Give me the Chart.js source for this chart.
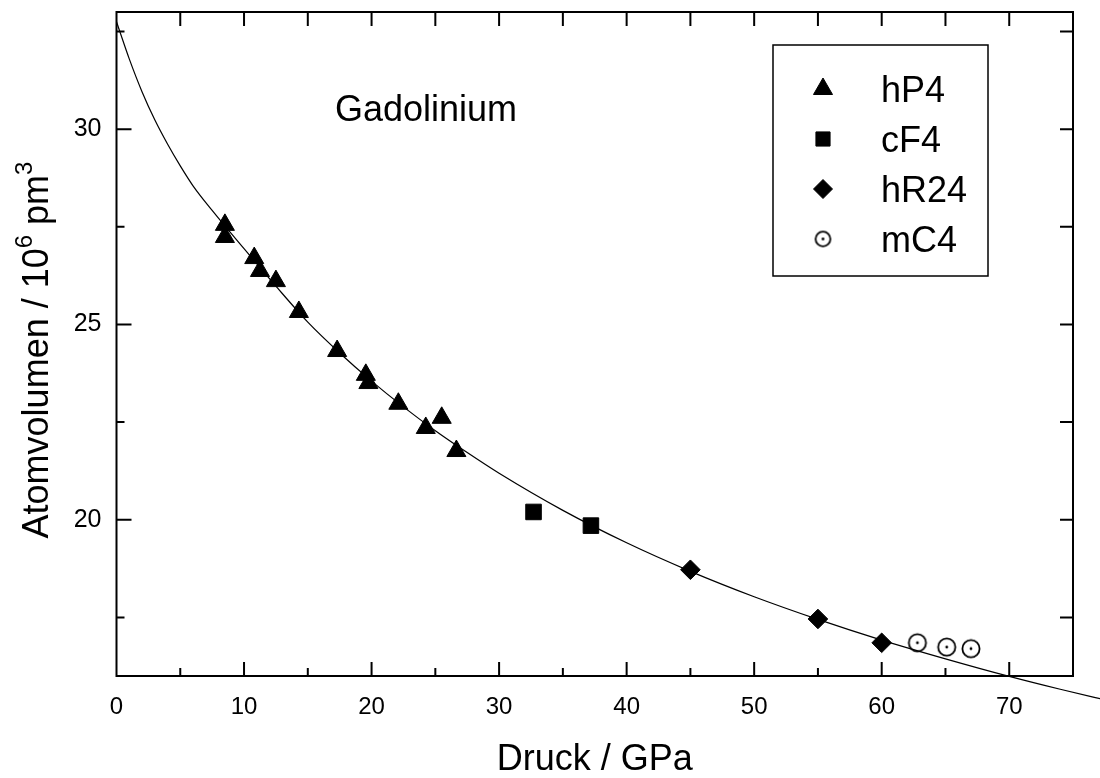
<!DOCTYPE html>
<html>
<head>
<meta charset="utf-8">
<title>Gadolinium – Atomvolumen gegen Druck</title>
<script src="https://cdn.jsdelivr.net/npm/chart.js@4.4.1/dist/chart.umd.min.js"></script>
<style>
  html, body { margin: 0; padding: 0; background: #fff; }
  #wrap { width: 1100px; height: 778px; }
</style>
</head>
<body>
<div id="wrap"><canvas id="gd-chart" width="1100" height="778"></canvas></div>
<script>
// measured points: pressure in GPa, atomic volume in 10^6 pm^3
const hP4P = [8.5, 8.5, 10.8, 11.25, 12.5, 14.3, 17.3, 19.55, 19.75, 22.1, 24.25, 25.5, 26.65];
const hP4V = [27.55, 27.24, 26.70, 26.37, 26.11, 25.32, 24.32, 23.71, 23.50, 22.97, 22.35, 22.61, 21.76];
const cF4P = [32.7, 37.2];
const cF4V = [20.20, 19.85];
const hR24P = [45.0, 55.0, 60.0];
const hR24V = [18.72, 17.46, 16.85];
const mC4P = [62.8, 65.1, 67.0];
const mC4V = [16.85, 16.74, 16.70];

// fitted curve (it runs on past the right frame)
const fitP = [0, 1, 2, 3, 4, 5, 6, 7.5, 10, 12.5, 15, 17.5, 20, 22.5, 25, 27.5, 30, 35, 40, 45, 50, 55, 60, 65, 70, 74, 78];
const fitV = [32.75, 31.8, 30.96, 30.24, 29.62, 29.06, 28.55, 27.92, 26.94, 25.98, 25.06, 24.27, 23.55, 22.89, 22.28, 21.72, 21.19, 20.24, 19.41, 18.68, 18.03, 17.45, 16.92, 16.44, 15.99, 15.66, 15.35];

const xTicks = [0, 10, 20, 30, 40, 50, 60, 70];
const xMinor = [5, 15, 25, 35, 45, 55, 65];
const yTicks = [20, 25, 30];
const yMinor = [17.5, 22.5, 27.5, 32.5];

const ink = '#000';
const family = '"Liberation Sans", Arial, Helvetica, sans-serif';

const toPoints = (xs, ys) => xs.map((x, i) => ({ x: x, y: ys[i] }));

function dotCircle(r) {
    const size = Math.ceil(2 * r + 4);
    const c = document.createElement('canvas');
    c.width = size; c.height = size;
    const g = c.getContext('2d');
    g.strokeStyle = ink; g.fillStyle = ink; g.lineWidth = 1.8;
    g.beginPath(); g.arc(size / 2, size / 2, r, 0, Math.PI * 2); g.stroke();
    g.beginPath(); g.arc(size / 2, size / 2, 1.4, 0, Math.PI * 2); g.fill();
    return c;
}

const markers = [
    { label: 'hP4', style: 'triangle', r: 11, lr: 11 },
    { label: 'cF4', style: 'rect', r: 11, lr: 10 },
    { label: 'hR24', style: 'rectRot', r: 9.8, lr: 9.5 },
    { label: 'mC4', style: dotCircle(8.6), r: 9, lr: 8, legendStyle: dotCircle(7.4) }
];

function sideTicks(ctx, a, x, y) {
    ctx.beginPath();
    xTicks.concat(xMinor).forEach(v => {
        if (v <= 0) return;
        const px = x.getPixelForValue(v);
        const len = xTicks.includes(v) ? 14 : 8;
        ctx.moveTo(px, a.bottom); ctx.lineTo(px, a.bottom - len);
        ctx.moveTo(px, a.top); ctx.lineTo(px, a.top + 14);
    });
    yTicks.concat(yMinor).forEach(v => {
        const py = y.getPixelForValue(v);
        const len = yTicks.includes(v) ? 15 : 8;
        ctx.moveTo(a.left, py); ctx.lineTo(a.left + len, py);
        ctx.moveTo(a.right, py); ctx.lineTo(a.right - 13, py);
    });
    ctx.stroke();
}

const framePlugin = {
    id: 'frame',
    afterDatasetsDraw(chart) {
        const { ctx, chartArea: a, scales: { x, y } } = chart;
        ctx.save();
        ctx.strokeStyle = ink;
        ctx.fillStyle = ink;
        ctx.lineWidth = 2;
        ctx.strokeRect(a.left, a.top, a.right - a.left, a.bottom - a.top);
        sideTicks(ctx, a, x, y);

        // axis titles
        ctx.textBaseline = 'alphabetic';
        ctx.font = '36px ' + family;
        ctx.textAlign = 'center';
        ctx.fillText('Druck / GPa', (a.left + a.right) / 2, 770);

        const parts = [['Atomvolumen / 10', 36, 0], ['6', 24, -16], [' pm', 36, 0], ['3', 24, -16]];
        let total = 0;
        parts.forEach(p => { ctx.font = p[1] + 'px ' + family; total += ctx.measureText(p[0]).width; });
        ctx.save();
        ctx.translate(48, 350);
        ctx.rotate(-Math.PI / 2);
        ctx.textAlign = 'left';
        let cx = -total / 2;
        parts.forEach(p => {
            ctx.font = p[1] + 'px ' + family;
            ctx.fillText(p[0], cx, p[2]);
            cx += ctx.measureText(p[0]).width;
        });
        ctx.restore();

        // annotation
        ctx.font = '36px ' + family;
        ctx.textAlign = 'left';
        ctx.fillText('Gadolinium', 335, 121);

        // legend box
        ctx.lineWidth = 1.5;
        ctx.strokeRect(773, 45, 215, 231);
        ctx.font = '36px ' + family;
        const rowY = [89, 139, 189, 239];
        chart.data.datasets.forEach((ds, i) => {
            if (!ds.legendMarker) return;
            const m = ds.legendMarker;
            ctx.fillStyle = ink; ctx.strokeStyle = ink; ctx.lineWidth = 1;
            Chart.helpers.drawPoint(ctx, { pointStyle: m.legendStyle || m.style, radius: m.lr, rotation: 0, borderWidth: 1 }, 823, rowY[i]);
            ctx.fillText(ds.label, 881, rowY[i] + 13);
        });
        ctx.restore();
    }
};

const datasets = [
    [hP4P, hP4V], [cF4P, cF4V], [hR24P, hR24V], [mC4P, mC4V]
].map((d, i) => ({
    label: markers[i].label,
    data: toPoints(d[0], d[1]),
    pointStyle: markers[i].style,
    pointRadius: markers[i].r,
    pointHoverRadius: markers[i].r,
    backgroundColor: ink,
    borderColor: ink,
    pointBorderWidth: 1,
    legendMarker: markers[i]
}));

datasets.push({
    label: 'fit',
    type: 'line',
    data: toPoints(fitP, fitV),
    showLine: true,
    borderColor: ink,
    borderWidth: 1.2,
    pointRadius: 0,
    cubicInterpolationMode: 'monotone',
    clip: false
});

new Chart(document.getElementById('gd-chart'), {
    type: 'scatter',
    data: { datasets: datasets },
    options: {
        responsive: false,
        animation: false,
        devicePixelRatio: 1,
        layout: { padding: { left: 0, right: 27, top: 12, bottom: 0 } },
        plugins: { legend: { display: false }, tooltip: { enabled: false } },
        scales: {
            x: {
                type: 'linear', min: 0, max: 75,
                grid: { display: false, drawTicks: false }, border: { display: false },
                afterBuildTicks: s => { s.ticks = xTicks.map(v => ({ value: v })); },
                afterFit: s => { s.height = 102; s.paddingLeft = 0; s.paddingRight = 0; },
                ticks: { color: ink, padding: 17, maxRotation: 0, font: { family: family, size: 24 } }
            },
            y: {
                type: 'linear', min: 16, max: 33,
                grid: { display: false, drawTicks: false }, border: { display: false },
                afterBuildTicks: s => { s.ticks = yTicks.map(v => ({ value: v })); },
                afterFit: s => { s.width = 116.5; s.paddingTop = 0; s.paddingBottom = 0; },
                ticks: { color: ink, padding: 15, font: { family: family, size: 25 } }
            }
        }
    },
    plugins: [framePlugin]
});
</script>
</body>
</html>
